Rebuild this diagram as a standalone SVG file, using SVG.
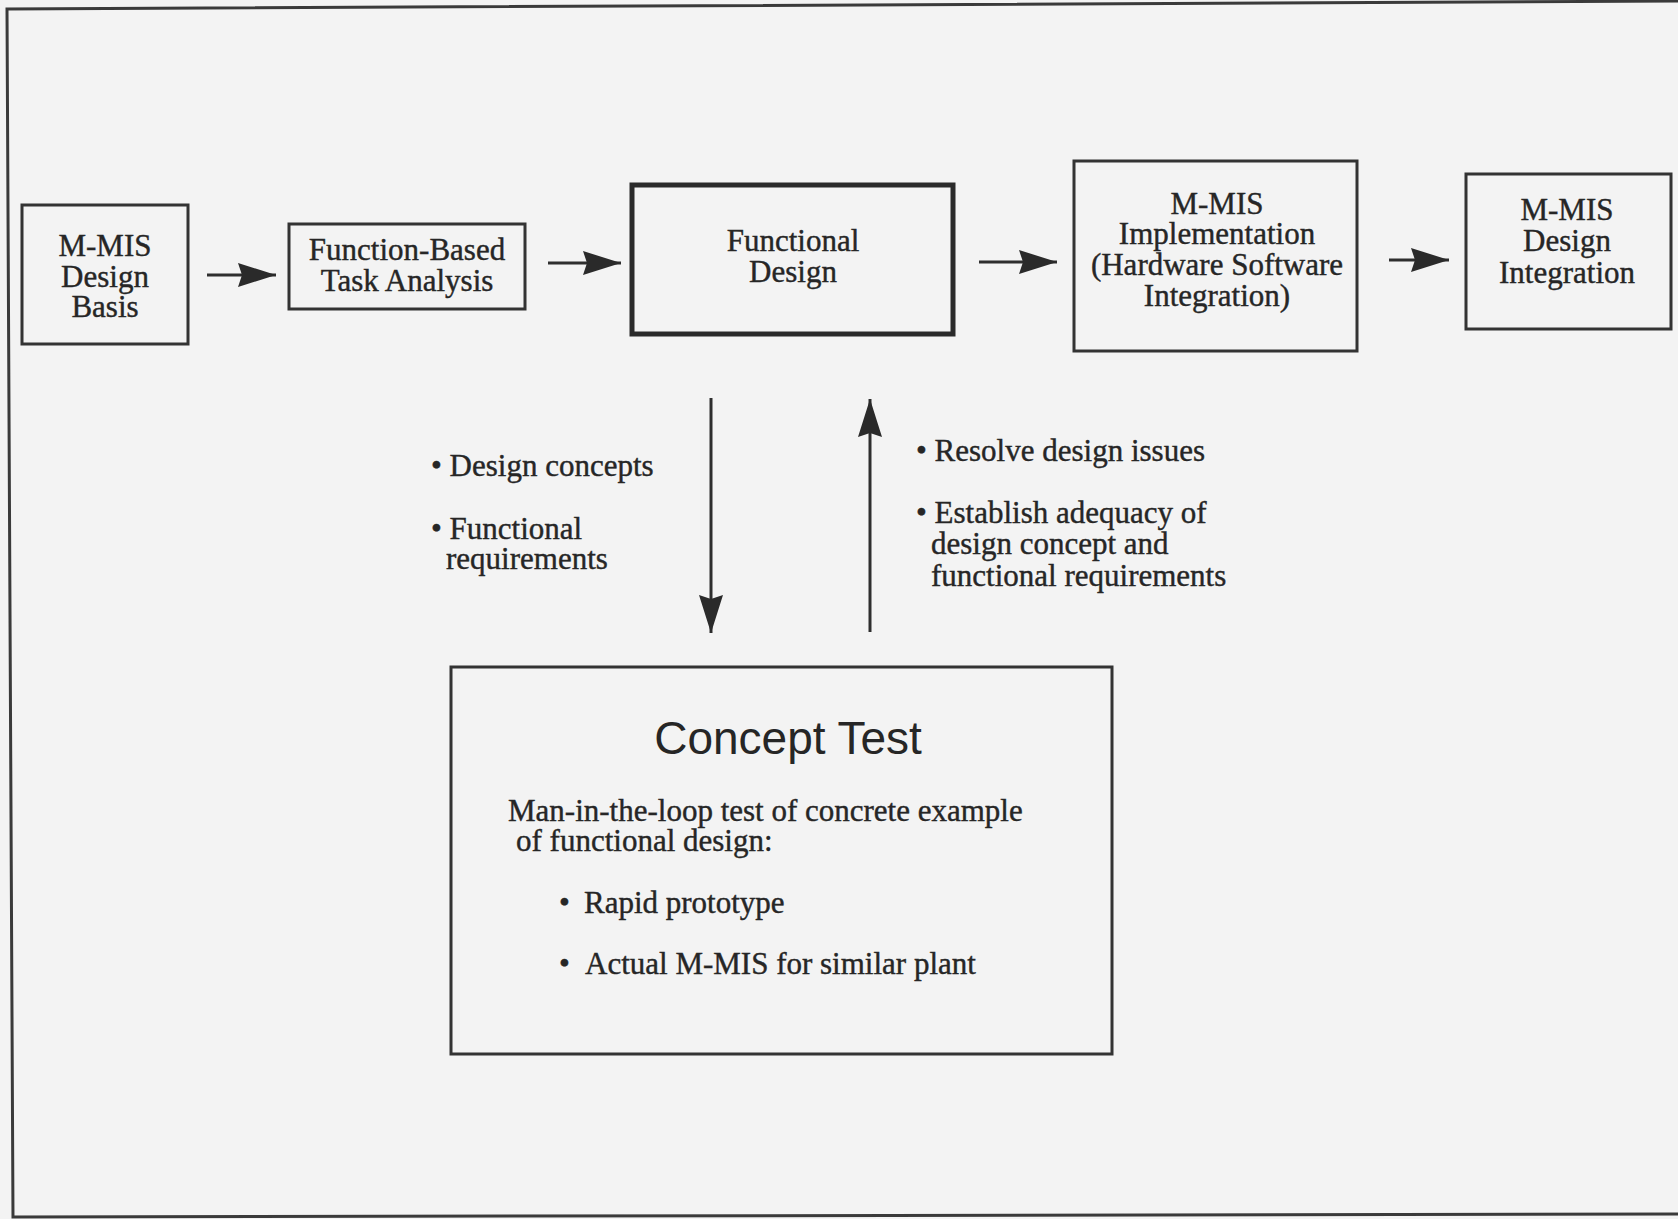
<svg xmlns="http://www.w3.org/2000/svg" width="1678" height="1219" viewBox="0 0 1678 1219">
<defs>
<style>
.bg{fill:#f3f3f3}
.frame{fill:none;stroke:#3a3a3a;stroke-width:3}
.box{fill:none;stroke:#333;stroke-width:3}
.thick{fill:none;stroke:#2a2a2a;stroke-width:5}
.conn{stroke:#2e2e2e;stroke-width:3;fill:none}
.t{font-family:"Liberation Serif","Times New Roman",serif;font-size:31px;fill:#262626;stroke:#262626;stroke-width:0.4}
.c{text-anchor:middle}
.title{font-family:"Liberation Sans",Arial,sans-serif;font-size:46px;fill:#262626;text-anchor:middle}
</style>
<marker id="ah" markerUnits="userSpaceOnUse" markerWidth="40" markerHeight="26" refX="38" refY="12" orient="auto">
<path d="M0,0 L38,12 L0,24 L4,12 z" fill="#2a2a2a"/>
</marker>
</defs>
<rect class="bg" x="0" y="0" width="1678" height="1219"/>
<path class="frame" d="M1690,1 L7,9 L13,1217 L1690,1214"/>

<g id="n1">
<rect class="box" x="22" y="205" width="166" height="139"/>
<text class="t c" x="105" y="256">M-MIS</text>
<text class="t c" x="105" y="287">Design</text>
<text class="t c" x="105" y="317">Basis</text>
</g>

<g id="n2">
<rect class="box" x="289" y="224" width="236" height="85"/>
<text class="t c" x="407" y="260">Function-Based</text>
<text class="t c" x="407" y="291">Task Analysis</text>
</g>

<g id="n3">
<rect class="thick" x="632" y="185" width="321" height="149"/>
<text class="t c" x="793" y="251">Functional</text>
<text class="t c" x="793" y="282">Design</text>
</g>

<g id="n4">
<rect class="box" x="1074" y="161" width="283" height="190"/>
<text class="t c" x="1217" y="214">M-MIS</text>
<text class="t c" x="1217" y="244">Implementation</text>
<text class="t c" x="1217" y="275">(Hardware Software</text>
<text class="t c" x="1217" y="306">Integration)</text>
</g>

<g id="n5">
<rect class="box" x="1466" y="174" width="205" height="155"/>
<text class="t c" x="1567" y="220">M-MIS</text>
<text class="t c" x="1567" y="251">Design</text>
<text class="t c" x="1567" y="283">Integration</text>
</g>

<g id="n6">
<rect class="box" x="451" y="667" width="661" height="387"/>
<text class="title" x="788" y="754">Concept Test</text>
<text class="t" x="508" y="821">Man-in-the-loop test of concrete example</text>
<text class="t" x="516" y="851">of functional design:</text>
<text class="t" x="559" y="913">•</text>
<text class="t" x="584" y="913">Rapid prototype</text>
<text class="t" x="559" y="974">•</text>
<text class="t" x="585" y="974">Actual M-MIS for similar plant</text>
</g>

<g id="labels">
<text class="t" x="431" y="476">• Design concepts</text>
<text class="t" x="431" y="539">• Functional</text>
<text class="t" x="446" y="569">requirements</text>
<text class="t" x="916" y="461">• Resolve design issues</text>
<text class="t" x="916" y="523">• Establish adequacy of</text>
<text class="t" x="931" y="554">design concept and</text>
<text class="t" x="931" y="586">functional requirements</text>
</g>

<g id="connectors">
<line class="conn" x1="207" y1="275" x2="276" y2="275" marker-end="url(#ah)"/>
<line class="conn" x1="548" y1="263" x2="621" y2="263" marker-end="url(#ah)"/>
<line class="conn" x1="979" y1="262" x2="1057" y2="262" marker-end="url(#ah)"/>
<line class="conn" x1="1389" y1="260" x2="1449" y2="260" marker-end="url(#ah)"/>
<line class="conn" x1="711" y1="398" x2="711" y2="633" marker-end="url(#ah)"/>
<line class="conn" x1="870" y1="632" x2="870" y2="399" marker-end="url(#ah)"/>
</g>
</svg>
